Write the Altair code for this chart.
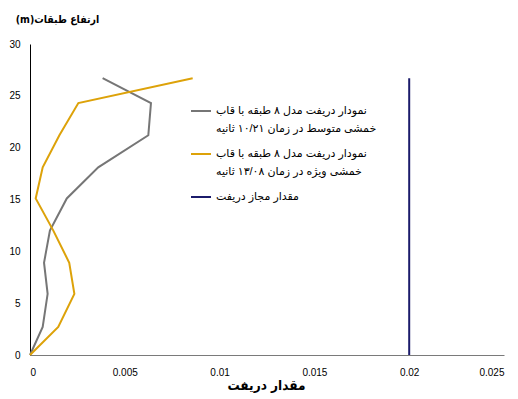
import altair as alt
import pandas as pd

# storey heights (m) at which drift is sampled
heights = [0, 2.7, 5.9, 8.9, 12.0, 15.1, 18.1, 21.2, 24.3, 26.7]
# drift of the 8-storey intermediate moment frame
drift_intermediate = [0, 0.00067, 0.00093, 0.00074, 0.00105, 0.00194, 0.0036, 0.00624, 0.00638, 0.00383]
# drift of the 8-storey special moment frame
drift_special = [0, 0.00149, 0.00234, 0.00207, 0.00123, 0.0003, 0.00067, 0.00155, 0.00255, 0.00858]
# allowable drift limit
limit_value = 0.02
limit_heights = [0, 26.7]

series_names = [
    "نمودار دریفت مدل ۸ طبقه با قاب\nخمشی متوسط در زمان ۱۰/۲۱ ثانیه",
    "نمودار دریفت مدل ۸ طبقه با قاب\nخمشی ویژه در زمان ۱۳/۰۸ ثانیه",
    "مقدار مجاز دریفت",
]
series_colors = ["#767676", "#DDA209", "#1B1B6B"]

rows = []
for h, d in zip(heights, drift_intermediate):
    rows.append({"series": series_names[0], "h": h, "drift": d})
for h, d in zip(heights, drift_special):
    rows.append({"series": series_names[1], "h": h, "drift": d})
for h in limit_heights:
    rows.append({"series": series_names[2], "h": h, "drift": limit_value})
df = pd.DataFrame(rows)

font = "Liberation Sans Narrow, Arial Narrow, Liberation Sans, DejaVu Sans"
title_font = "Liberation Sans Narrow, Arial Narrow, DejaVu Sans Condensed, DejaVu Sans"

chart = (
    alt.Chart(df)
    .mark_line(strokeWidth=2)
    .encode(
        x=alt.X(
            "drift:Q",
            scale=alt.Scale(domain=[0, 0.025], nice=False),
            axis=alt.Axis(
                values=[0, 0.005, 0.01, 0.015, 0.02, 0.025],
                format="~g",
                title="مقدار دریفت",
                titleFont=title_font,
                titleFontSize=13.5,
                titleFontWeight="bold",
                titleX=236,
                titleY=30,
                titleBaseline="middle",
                labelPadding=12,
                domainColor="#7a7a7a",
            ),
        ),
        y=alt.Y(
            "h:Q",
            scale=alt.Scale(domain=[0, 30], nice=False),
            axis=alt.Axis(
                values=[0, 5, 10, 15, 20, 25, 30],
                title="(m)ارتفاع طبقات",
                titleFont=title_font,
                titleAngle=0,
                titleFontSize=10.5,
                titleFontWeight="bold",
                titleX=27,
                titleY=-25,
                titleAlign="center",
                titleBaseline="middle",
                labelPadding=10,
                domainColor="#000000",
            ),
        ),
        color=alt.Color(
            "series:N",
            scale=alt.Scale(domain=series_names, range=series_colors),
            legend=alt.Legend(
                title=None,
                orient="none",
                legendX=160,
                legendY=56,
                symbolType="stroke",
                symbolSize=400,
                symbolStrokeWidth=2,
                labelExpr="split(datum.label, '\\n')",
                labelFontSize=11,
                labelLimit=300,
                rowPadding=9,
            ),
        ),
        order=alt.Order("h:Q"),
    )
    .properties(
        width=474,
        height=311,
        padding={"left": 30, "top": 44, "right": 14, "bottom": 44},
        autosize=alt.AutoSizeParams(type="none"),
    )
    .configure(style={"guide-label": {"lineHeight": 18}})
    .configure_view(stroke=None)
    .configure_axis(
        grid=False,
        ticks=False,
        labelFont=font,
        labelFontSize=10,
        labelColor="#000000",
        titleColor="#000000",
        domainWidth=1,
    )
    .configure_legend(labelFont=font, labelColor="#000000")
)

chart.save("out.html", embed_options={"renderer": "svg", "actions": False})
